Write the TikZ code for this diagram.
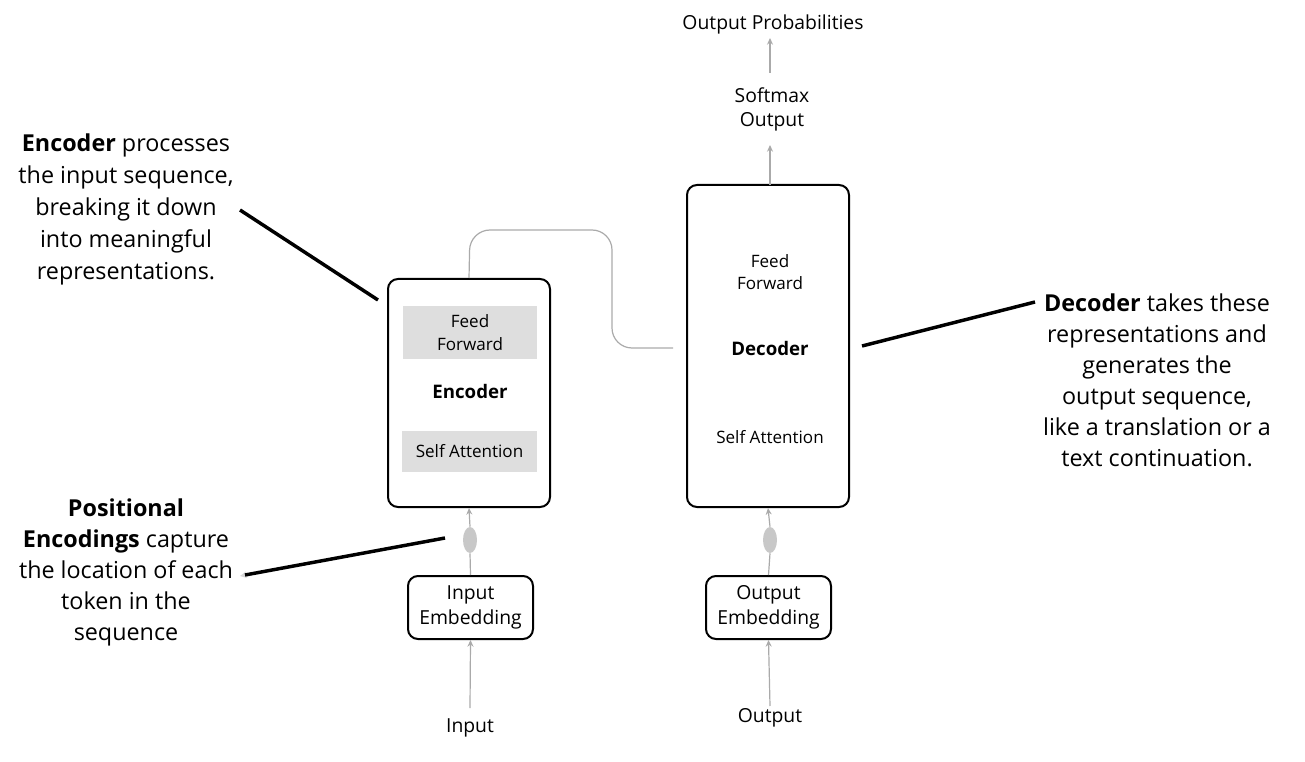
\documentclass[tikz,border=0pt]{standalone}
\usepackage{fontspec}
\setmainfont{Open Sans}
\usetikzlibrary{arrows.meta,shapes.geometric}
\definecolor{lgray}{RGB}{170,170,170}
\definecolor{boxgray}{RGB}{222,222,222}
\definecolor{ellgray}{RGB}{200,200,200}
\definecolor{fgray}{RGB}{215,215,215}
\begin{document}
\begin{tikzpicture}[x=0.75pt,y=-0.75pt,
  mainbox/.style={draw=black, line width=1.5pt, rounded corners=7.5pt, fill=white, inner sep=0pt},
  graybox/.style={fill=boxgray, inner sep=0pt, align=center, font=\fontsize{12.8}{17}\selectfont},
  lbl/.style={align=center, inner sep=0pt, font=\fontsize{14.5}{18}\selectfont},
  slbl/.style={align=center, inner sep=0pt, font=\fontsize{12.8}{16}\selectfont},
  blbl/.style={align=center, inner sep=0pt, font=\fontsize{14}{17}\selectfont\bfseries},
  emb/.style={mainbox, minimum width=93.75pt, minimum height=47.25pt, align=center, font=\fontsize{14.5}{18.75}\selectfont},
  annot/.style={align=center, inner sep=0pt, font=\fontsize{17.5}{24}\selectfont},
  annotb/.style={align=center, inner sep=0pt, font=\fontsize{17.5}{23.25}\selectfont},
  conn/.style={draw=lgray, line width=0.9pt, -{Stealth[length=5pt,width=4.5pt]}},
  plain/.style={draw=lgray, line width=0.9pt},
  pointer/.style={draw=black, line width=2.6pt},
  dot/.style={ellipse, fill=ellgray, minimum width=10.5pt, minimum height=19.5pt, inner sep=0pt}
]
\useasboundingbox (0,0) rectangle (1305,762);

% Encoder
\node[mainbox, minimum width=121.5pt, minimum height=171pt] (enc) at (469,393) {};
\node[graybox, minimum width=100.5pt, minimum height=39.75pt] (encff) at (470,332.5) {Feed\\Forward};
\node[blbl] (enct) at (470,391) {Encoder};
\node[graybox, minimum width=101.25pt, minimum height=30.75pt] (encsa) at (469.5,451.5) {Self Attention};

% Decoder
\node[mainbox, minimum width=121.5pt, minimum height=241.5pt] (dec) at (768,346) {};
\node[slbl] (decff) at (770,272) {Feed\\Forward};
\node[blbl] (dect) at (770,349) {Decoder};
\node[slbl] (decsa) at (770,437) {Self Attention};

% Embeddings
\node[emb] (inemb) at (470.5,607.5) {Input\\Embedding};
\node[emb] (outemb) at (768.5,607.5) {Output\\Embedding};

\node[dot] (pe1) at (470,540) {};
\node[dot] (pe2) at (770,540) {};

\node[lbl] (in) at (470,728) {Input};
\node[lbl] (out) at (770,718) {Output};
\node[lbl] (soft) at (772,109) {Softmax\\Output};
\node[lbl] (prob) at (773,24) {Output Probabilities};

% connectors
\draw[conn] (470,708) -- (inemb.south);
\draw[conn] (770,706) -- (outemb.south);
\draw[plain] (inemb.north) -- (pe1.south);
\draw[plain] (outemb.north) -- (pe2.south);
\draw[conn] (pe1.north) -- (enc.south);
\draw[conn] (pe2.north) -- (dec.south);
\draw[conn] (770,185) -- (770,145);
\draw[conn] (770,73) -- (770,38);
\coordinate (dj) at (673,348);
\draw[plain, rounded corners=15pt] (enc.north) -- (470,230) -- (612,230) -- (612,348) -- (dj);

% annotations
\node[annot] (a1) at (126,209) {\textbf{Encoder} processes\\the input sequence,\\breaking it down\\into meaningful\\representations.};
\node[annotb] (a2) at (126,572.5) {\textbf{Positional}\\\textbf{Encodings} capture\\the location of each\\token in the\\sequence};
\node[annotb] (a3) at (1157,380) {\textbf{Decoder} takes these\\representations and\\generates the\\output sequence,\\like a translation or a\\text continuation.};

\coordinate (p1a) at (240,210);
\coordinate (p1b) at (378,300);
\coordinate (p2a) at (245,575);
\coordinate (p2b) at (445,538);
\coordinate (p2c) at (240,576);
\coordinate (p3a) at (862,346);
\coordinate (p3b) at (1035,302);
\draw[draw=fgray, line width=0.8pt, -{Stealth[length=5pt,width=5pt]}] (p2b) -- (p2c);
\draw[pointer] (p1a) -- (p1b);
\draw[pointer] (p2a) -- (p2b);
\draw[pointer] (p3a) -- (p3b);
\end{tikzpicture}
\end{document}
